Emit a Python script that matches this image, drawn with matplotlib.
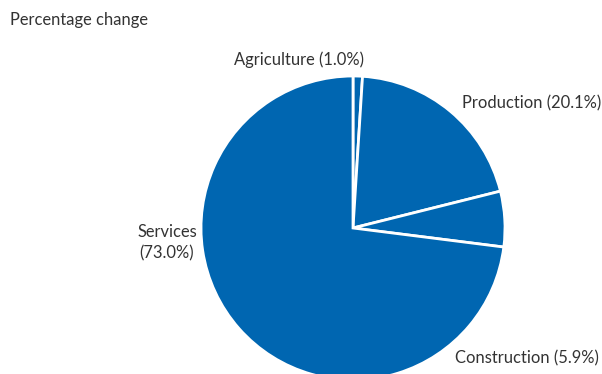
import matplotlib
matplotlib.use("Agg")
import matplotlib.pyplot as plt

sectors = ["Agriculture", "Production", "Construction", "Services"]
shares = [1.0, 20.1, 5.9, 73.0]

W, H = 602, 374
fig = plt.figure(figsize=(W / 100, H / 100), dpi=100)
ax = fig.add_axes([0, 0, 1, 1])
ax.set_xlim(0, W)
ax.set_ylim(0, H)
ax.set_aspect("equal")
ax.axis("off")

blue = "#0066B1"
cx, cy, r = 353, H - 228, 152
ax.pie(shares, startangle=90, counterclock=False, center=(cx, cy), radius=r,
       colors=[blue] * len(shares),
       wedgeprops=dict(edgecolor="white", linewidth=2))
ax.set_xlim(0, W)
ax.set_ylim(0, H)

txt = dict(color="#333333", fontsize=11.9, family=["Lato", "DejaVu Sans"])
labels = [f"{s} ({v:.1f}%)" for s, v in zip(sectors, shares)]

ax.text(10, H - 20, "Percentage change", ha="left", va="center", **txt)
ax.text(234, H - 60, labels[0], ha="left", va="center", **txt)
ax.text(462, H - 103, labels[1], ha="left", va="center", **txt)
ax.text(455, H - 358, labels[2], ha="left", va="center", **txt)
ax.text(167, H - 243, f"{sectors[3]}\n({shares[3]:.1f}%)", ha="center", va="center",
        linespacing=1.4, **txt)

fig.savefig("out.png", dpi=100)
